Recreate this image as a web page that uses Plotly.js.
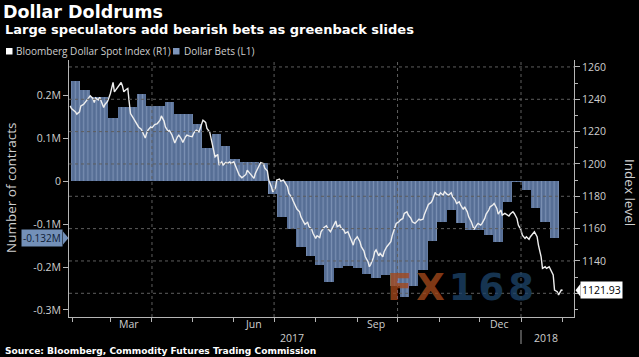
<!DOCTYPE html>
<html><head><meta charset="utf-8">
<script src="https://cdn.plot.ly/plotly-3.0.1.min.js"></script>
<style>html,body{margin:0;padding:0;background:#000;}#chart{width:639px;height:357px;}</style>
</head><body><div id="chart"></div>
<script>
// ---- DATA ----
const betWeeks = ["2017-02-03","2017-02-10","2017-02-17","2017-02-24","2017-03-03","2017-03-10","2017-03-17","2017-03-24","2017-03-31","2017-04-07","2017-04-14","2017-04-21","2017-04-28","2017-05-05","2017-05-12","2017-05-19","2017-05-26","2017-06-02","2017-06-09","2017-06-16","2017-06-23","2017-06-30","2017-07-07","2017-07-14","2017-07-21","2017-07-28","2017-08-04","2017-08-11","2017-08-18","2017-08-25","2017-09-01","2017-09-08","2017-09-15","2017-09-22","2017-09-29","2017-10-06","2017-10-13","2017-10-20","2017-10-27","2017-11-03","2017-11-10","2017-11-17","2017-11-24","2017-12-01","2017-12-08","2017-12-15","2017-12-22","2017-12-29","2018-01-05","2018-01-12","2018-01-19","2018-01-26"];
const dollarBets = [0.235,0.213,0.197,0.197,0.147,0.174,0.174,0.203,0.176,0.176,0.186,0.157,0.157,0.135,0.078,0.110,0.082,0.053,0.046,0.045,0.043,-0.030,-0.083,-0.112,-0.153,-0.173,-0.195,-0.234,-0.201,-0.198,-0.201,-0.216,-0.226,-0.218,-0.245,-0.269,-0.245,-0.206,-0.140,-0.095,-0.067,-0.096,-0.114,-0.114,-0.125,-0.141,-0.047,-0.002,-0.020,-0.063,-0.094,-0.132];

const indexDates = ["2017-01-30","2017-01-31","2017-02-03","2017-02-04","2017-02-06","2017-02-07","2017-02-09","2017-02-11","2017-02-13","2017-02-14","2017-02-16","2017-02-17","2017-02-18","2017-02-20","2017-02-21","2017-02-22","2017-02-24","2017-02-25","2017-02-27","2017-03-01","2017-03-03","2017-03-04","2017-03-06","2017-03-07","2017-03-09","2017-03-10","2017-03-11","2017-03-13","2017-03-14","2017-03-15","2017-03-16","2017-03-18","2017-03-20","2017-03-22","2017-03-24","2017-03-25","2017-03-27","2017-03-28","2017-03-29","2017-03-31",
"2017-04-01","2017-04-03","2017-04-05","2017-04-07","2017-04-08","2017-04-10","2017-04-11","2017-04-13","2017-04-14","2017-04-16","2017-04-17","2017-04-18","2017-04-20","2017-04-21","2017-04-23","2017-04-24","2017-04-26","2017-04-27","2017-04-29",
"2017-05-01","2017-05-02","2017-05-04","2017-05-06","2017-05-08","2017-05-09","2017-05-11","2017-05-12","2017-05-14","2017-05-15","2017-05-17","2017-05-18","2017-05-20","2017-05-21","2017-05-23","2017-05-24","2017-05-26","2017-05-27","2017-05-29","2017-05-30",
"2017-06-01","2017-06-02","2017-06-04","2017-06-05","2017-06-07","2017-06-08","2017-06-10","2017-06-11","2017-06-13","2017-06-14","2017-06-16","2017-06-17","2017-06-19","2017-06-20","2017-06-21","2017-06-23","2017-06-24","2017-06-26","2017-06-27","2017-06-29","2017-06-30",
"2017-07-02","2017-07-03","2017-07-05","2017-07-06","2017-07-08","2017-07-09","2017-07-11","2017-07-12","2017-07-14","2017-07-15","2017-07-17","2017-07-18","2017-07-20","2017-07-21","2017-07-23","2017-07-24","2017-07-26","2017-07-27","2017-07-29","2017-07-30",
"2017-08-01","2017-08-02","2017-08-04","2017-08-05","2017-08-07","2017-08-09","2017-08-10","2017-08-12","2017-08-13","2017-08-15","2017-08-16","2017-08-17","2017-08-19","2017-08-20","2017-08-22","2017-08-23","2017-08-25","2017-08-26","2017-08-28","2017-08-29","2017-08-30",
"2017-09-01","2017-09-03","2017-09-04","2017-09-06","2017-09-07","2017-09-09","2017-09-10","2017-09-11","2017-09-13","2017-09-14","2017-09-15","2017-09-17","2017-09-18","2017-09-20","2017-09-21","2017-09-23","2017-09-24","2017-09-26","2017-09-27","2017-09-29","2017-09-30",
"2017-10-02","2017-10-03","2017-10-05","2017-10-06","2017-10-08","2017-10-09","2017-10-11","2017-10-12","2017-10-14","2017-10-15","2017-10-17","2017-10-18","2017-10-20","2017-10-21","2017-10-23","2017-10-24","2017-10-26","2017-10-27","2017-10-29","2017-10-30",
"2017-11-01","2017-11-02","2017-11-04","2017-11-05","2017-11-07","2017-11-08","2017-11-10","2017-11-11","2017-11-13","2017-11-14","2017-11-16","2017-11-17","2017-11-19","2017-11-20","2017-11-22","2017-11-23","2017-11-25","2017-11-26","2017-11-27","2017-11-29","2017-11-30",
"2017-12-02","2017-12-03","2017-12-05","2017-12-06","2017-12-08","2017-12-09","2017-12-11","2017-12-12","2017-12-14","2017-12-15","2017-12-17","2017-12-18","2017-12-20","2017-12-21","2017-12-23","2017-12-24","2017-12-26","2017-12-27","2017-12-29","2017-12-30",
"2018-01-01","2018-01-02","2018-01-04","2018-01-05","2018-01-07","2018-01-08","2018-01-10","2018-01-11","2018-01-13","2018-01-14","2018-01-16","2018-01-17","2018-01-19","2018-01-20","2018-01-22","2018-01-23","2018-01-25","2018-01-26","2018-01-28","2018-01-29","2018-01-31","2018-02-01"];
const indexValues = [1235.9,1234.3,1232.2,1230.8,1232.2,1235.9,1236.8,1239.2,1241.1,1242.1,1240.5,1238.0,1240.9,1239.6,1241.3,1238.8,1234.9,1236.8,1238.8,1243.6,1250.4,1244.6,1246.7,1248.1,1250.4,1248.3,1244.6,1246.2,1246.7,1238.4,1231.2,1228.5,1226.0,1222.9,1221.5,1219.8,1216.1,1218.9,1220.9,1222.9,
1222.3,1224.4,1225.0,1227.1,1229.7,1226.5,1222.9,1220.3,1220.7,1217.8,1214.7,1213.0,1216.8,1217.8,1215.3,1213.3,1216.8,1217.8,1217.2,
1216.8,1218.9,1220.9,1219.8,1225.0,1227.1,1225.7,1221.9,1219.8,1215.8,1208.5,1204.4,1205.9,1199.3,1201.3,1199.3,1200.9,1200.3,1201.3,1200.3,
1201.3,1199.3,1195.6,1193.1,1191.4,1192.0,1193.5,1196.2,1194.1,1193.1,1191.1,1194.1,1197.2,1199.3,1200.9,1200.3,1197.6,1195.6,1190.0,1185.9,1182.8,
1185.2,1190.0,1190.6,1189.4,1190.0,1188.6,1185.9,1181.8,1179.7,1177.6,1173.5,1172.1,1170.4,1167.3,1164.2,1162.6,1163.9,1161.2,1159.7,1157.1,
1154.0,1155.6,1154.4,1158.0,1160.5,1161.8,1160.2,1158.1,1159.7,1163.2,1164.7,1161.2,1162.2,1160.2,1159.1,1157.1,1158.1,1156.0,1151.9,1149.8,1152.9,
1155.0,1151.9,1148.8,1146.1,1142.6,1139.5,1136.4,1137.9,1142.0,1145.7,1146.8,1143.2,1144.7,1142.6,1145.7,1148.8,1149.8,1151.9,1155.6,1161.2,1163.2,
1164.2,1165.3,1166.3,1169.4,1170.4,1168.4,1166.3,1164.2,1163.2,1164.2,1165.9,1165.3,1165.9,1168.8,1172.5,1175.0,1176.2,1177.6,1182.4,1181.2,
1180.7,1182.2,1180.7,1182.8,1181.2,1180.7,1182.2,1179.7,1177.6,1175.6,1176.6,1174.6,1171.9,1173.5,1170.4,1167.3,1164.2,1161.6,1159.5,1162.2,1163.2,
1162.2,1163.2,1166.3,1169.0,1171.5,1173.5,1174.6,1175.6,1172.5,1169.0,1171.5,1168.4,1169.4,1169.0,1167.8,1169.0,1170.4,1169.4,1166.3,1162.2,
1159.1,1156.0,1154.0,1155.0,1153.4,1155.0,1157.1,1158.1,1155.0,1149.8,1142.6,1135.4,1136.4,1135.4,1136.4,1134.4,1131.3,1122.0,1121.0,1119.0,1122.0,1121.93];

const leftTickVals = [-0.3,-0.2,-0.1,0,0.1,0.2];
const leftTickText = ["-0.3M","-0.2M","-0.1M","0","0.1M","0.2M"];
const rightTickVals = [1120,1140,1160,1180,1200,1220,1240,1260];
const rightTickText = ["","1140","1160","1180","1200","1220","1240","1260"];
const quarterDates = ["2017-04-01","2017-07-01","2017-10-01","2018-01-01"];
const monthLabels = ["Mar","Jun","Sep","Dec"];
const monthLabelDates = ["2017-03-15","2017-06-16","2017-09-15","2017-12-16"];
const yearLabels = ["2017","2018"];
const yearLabelDates = ["2017-07-14","2018-01-20"];
const lastBet = dollarBets[dollarBets.length-1];
const lastIndex = indexValues[indexValues.length-1];

// ---- LAYOUT GEOMETRY ----
const W = 639, H = 357, L = 69, R = 65, T = 60, B = 40;
const PW = W - L - R, PH = H - T - B;
const px = x => (x - L) / PW;
const py = y => (H - B - y) / PH;

const txt = '#cfcfcf';
const axc = '#b5b5b5';
const gridc = '#5e5e5e';
const barBase = '#566e95';
const barStripe = '#9cb0cf';
const tickFont = {family: 'Open Sans', size: 10.5, color: txt};

const traces = [
  {type: 'bar', x: betWeeks, y: dollarBets, width: 7*24*3600*1000, yaxis: 'y', xaxis: 'x',
   marker: {color: barBase, line: {width: 0},
            pattern: {shape: '|', fillmode: 'overlay', bgcolor: barBase, fgcolor: barStripe, size: 4.2, solidity: 0.3}},
   hoverinfo: 'skip'},
  {type: 'scatter', mode: 'lines', x: indexDates, y: indexValues, yaxis: 'y2', xaxis: 'x',
   line: {color: '#eeeeee', width: 1.4}, hoverinfo: 'skip'}
];

const shapes = [];
rightTickVals.forEach(v => shapes.push({type: 'line', xref: 'paper', x0: 0, x1: 1, yref: 'y2', y0: v, y1: v,
  line: {color: gridc, width: 1, dash: 'dot'}, layer: 'above'}));
quarterDates.forEach(d => shapes.push({type: 'line', xref: 'x', x0: d, x1: d, yref: 'paper', y0: 0, y1: 1,
  line: {color: gridc, width: 1, dash: 'dot'}, layer: 'above'}));
// year separator
shapes.push({type: 'line', xref: 'x', x0: '2018-01-01', x1: '2018-01-01', yref: 'paper', y0: py(330), y1: py(344),
  line: {color: '#9a9a9a', width: 1}});
// legend squares
shapes.push({type: 'rect', xref: 'paper', yref: 'paper', x0: px(6), x1: px(12.5), y0: py(54.5), y1: py(48), fillcolor: '#ffffff', line: {width: 0}});
shapes.push({type: 'rect', xref: 'paper', yref: 'paper', x0: px(173), x1: px(179.5), y0: py(54.5), y1: py(48), fillcolor: '#7d95bb', line: {width: 0}});
// pointer tips for last-value labels
const dyL = 6.5 / (PH / (0.2832 + 0.3164));
shapes.push({type: 'path', xref: 'paper', yref: 'y',
  path: `M ${px(63)} ${lastBet + dyL} L ${px(68.5)} ${lastBet} L ${px(63)} ${lastBet - dyL} Z`,
  fillcolor: '#7390b8', line: {width: 0}});
const dyR = 6.5 / (PH / (1264.3 - 1105.34));
shapes.push({type: 'path', xref: 'paper', yref: 'y2',
  path: `M ${px(580.5)} ${lastIndex + dyR} L ${px(575.5)} ${lastIndex} L ${px(580.5)} ${lastIndex - dyR} Z`,
  fillcolor: '#ffffff', line: {width: 0}});

const annotations = [
  {xref: 'paper', yref: 'paper', x: px(3), y: py(30), xanchor: 'left', yanchor: 'middle', showarrow: false,
   text: '<b>Large speculators add bearish bets as greenback slides</b>', font: {family: 'DejaVu Sans', size: 13, color: '#ffffff'}},
  {xref: 'paper', yref: 'paper', x: px(14), y: py(51.5), xanchor: 'left', yanchor: 'middle', showarrow: false,
   text: 'Bloomberg Dollar Spot Index (R1)', font: {family: 'Open Sans', size: 10, color: txt}},
  {xref: 'paper', yref: 'paper', x: px(182), y: py(51.5), xanchor: 'left', yanchor: 'middle', showarrow: false,
   text: 'Dollar Bets (L1)', font: {family: 'Open Sans', size: 10, color: txt}},
  {xref: 'paper', yref: 'paper', x: px(3), y: py(351), xanchor: 'left', yanchor: 'middle', showarrow: false,
   text: '<b>Source: Bloomberg, Commodity Futures Trading Commission</b>', font: {family: 'DejaVu Sans', size: 9.1, color: '#ffffff'}},
  {xref: 'paper', yref: 'paper', x: px(11), y: py(188), xanchor: 'center', yanchor: 'middle', showarrow: false, textangle: -90,
   text: 'Number of contracts', font: {family: 'Open Sans', size: 13.5, color: txt}},
  {xref: 'paper', yref: 'paper', x: px(630), y: py(192), xanchor: 'center', yanchor: 'middle', showarrow: false, textangle: 90,
   text: 'Index level', font: {family: 'Open Sans', size: 13.5, color: txt}},
  {xref: 'paper', yref: 'y', x: px(63), y: lastBet, xanchor: 'right', yanchor: 'middle', showarrow: false,
   text: (lastBet).toFixed(3) + 'M', bgcolor: '#7390b8', borderpad: 1, font: {family: 'Open Sans', size: 10, color: '#0e1c36'}},
  {xref: 'paper', yref: 'y2', x: px(580), y: lastIndex, xanchor: 'left', yanchor: 'middle', showarrow: false,
   text: lastIndex.toFixed(2), bgcolor: '#ffffff', borderpad: 1, font: {family: 'Open Sans', size: 10.5, color: '#000000'}},
  {xref: 'paper', yref: 'paper', x: px(462), y: py(287), xanchor: 'center', yanchor: 'middle', showarrow: false, opacity: 0.78,
   text: '<span style="color:#a3481b;letter-spacing:4px">FX</span><span style="color:#1d4368;letter-spacing:4px">168</span>',
   font: {family: 'DejaVu Sans', size: 37, color: '#1d4368', weight: 'bold'}}
];
monthLabels.forEach((m, i) => annotations.push({xref: 'x', yref: 'paper', x: monthLabelDates[i], y: py(324), xanchor: 'center', yanchor: 'middle',
  showarrow: false, text: m, font: tickFont}));
yearLabels.forEach((m, i) => annotations.push({xref: 'x', yref: 'paper', x: yearLabelDates[i], y: py(338), xanchor: 'center', yanchor: 'middle',
  showarrow: false, text: m, font: tickFont}));

const layout = {
  width: W, height: H, margin: {l: L, r: R, t: T, b: B, pad: 0},
  paper_bgcolor: '#000000', plot_bgcolor: '#000000',
  showlegend: false, bargap: 0,
  title: {text: '<b>Dollar Doldrums</b>', xref: 'container', yref: 'container', x: 3/W, xanchor: 'left',
          y: 1 - 12/H, yanchor: 'middle', font: {family: 'DejaVu Sans', size: 17.5, color: '#ffffff'}},
  xaxis: {type: 'date', range: ['2017-01-29 04:00', '2018-02-09 12:00'], showgrid: false, zeroline: false,
          showline: true, linecolor: axc, linewidth: 1, tickmode: 'array', tickvals: quarterDates, showticklabels: false,
          ticks: 'outside', ticklen: 4, tickcolor: axc,
          minor: {tickmode: 'linear', tick0: '2017-02-01', dtick: 'M1', ticks: 'outside', ticklen: 4, tickcolor: axc, showgrid: false},
          fixedrange: true},
  yaxis: {range: [-0.3164, 0.2832], tickmode: 'array', tickvals: leftTickVals, ticktext: leftTickText, showgrid: false, zeroline: false,
          showline: true, linecolor: axc, linewidth: 1, ticks: 'outside', ticklen: 5, tickcolor: axc, tickfont: tickFont, fixedrange: true},
  yaxis2: {range: [1105.34, 1264.3], overlaying: 'y', side: 'right', tickmode: 'array', tickvals: rightTickVals, ticktext: rightTickText,
           showgrid: false, zeroline: false, showline: true, linecolor: axc, linewidth: 1, ticks: 'outside', ticklen: 5, tickcolor: axc,
           minor: {tickmode: 'linear', tick0: 1110, dtick: 20, ticks: 'outside', ticklen: 3, tickcolor: axc},
           tickfont: tickFont, fixedrange: true},
  shapes: shapes, annotations: annotations
};

Plotly.newPlot('chart', traces, layout, {staticPlot: true, displayModeBar: false});
</script></body></html>
